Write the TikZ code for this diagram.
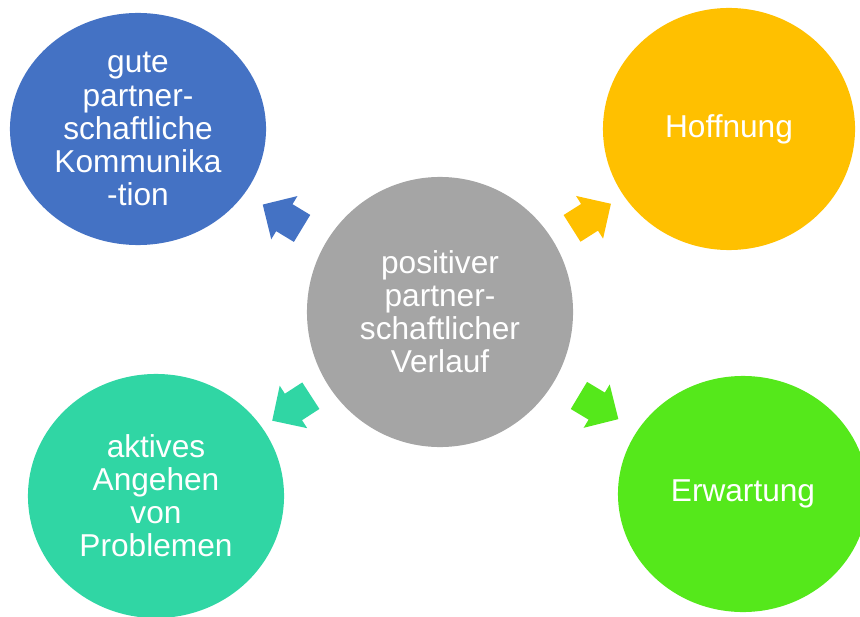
\documentclass[tikz,border=0pt]{standalone}
\usepackage{fontspec}
\setmainfont{Liberation Sans}
\usetikzlibrary{shapes.geometric,shapes.arrows}
\definecolor{blau}{HTML}{4472C4}
\definecolor{gelb}{HTML}{FFC000}
\definecolor{grau}{HTML}{A5A5A5}
\definecolor{tuerkis}{HTML}{30D6A4}
\definecolor{gruen}{HTML}{55E81B}
\tikzset{
  kreis/.style={ellipse, inner sep=0pt, text=white, align=center, font=\fontsize{22.5}{23.5}\selectfont},
  pfeil/.style={single arrow, draw=none, inner xsep=0pt, inner ysep=0.3875cm, minimum height=1.15cm, single arrow head extend=0.2375cm, sloped, allow upside down, pos=0.45}
}

\begin{document}
\begin{tikzpicture}[x=0.025cm,y=-0.025cm]
  \useasboundingbox (0,0) rectangle (860,617); % formato della figura
  \node[kreis, fill=grau, minimum width=6.65cm, minimum height=6.75cm] (mitte) at (440,312) {positiver\\partner-\\schaftlicher\\Verlauf}; % cerchio centrale
  \node[kreis, fill=blau, minimum width=6.4cm, minimum height=5.8cm] (komm) at (138,129) {gute\\partner-\\schaftliche\\Kommunika\\-tion}; % in alto a sinistra
  \node[kreis, fill=gelb, minimum width=6.3cm, minimum height=6.05cm] (hoff) at (729,129) {Hoffnung}; % in alto a destra
  \node[kreis, fill=tuerkis, minimum width=6.4cm, minimum height=6.1cm] (prob) at (156,496) {aktives\\Angehen\\von\\Problemen}; % in basso a sinistra
  \node[kreis, fill=gruen, minimum width=6.25cm, minimum height=5.9cm] (erw) at (743,494) {Erwartung}; % in basso a destra
  \path (mitte) -- node[pfeil, fill=blau] (p1) {} (komm); % frecce verso l'esterno
  \path (mitte) -- node[pfeil, fill=gelb] (p2) {} (hoff);
  \path (mitte) -- node[pfeil, fill=tuerkis] (p3) {} (prob);
  \path (mitte) -- node[pfeil, fill=gruen] (p4) {} (erw);
\end{tikzpicture}
\end{document}
